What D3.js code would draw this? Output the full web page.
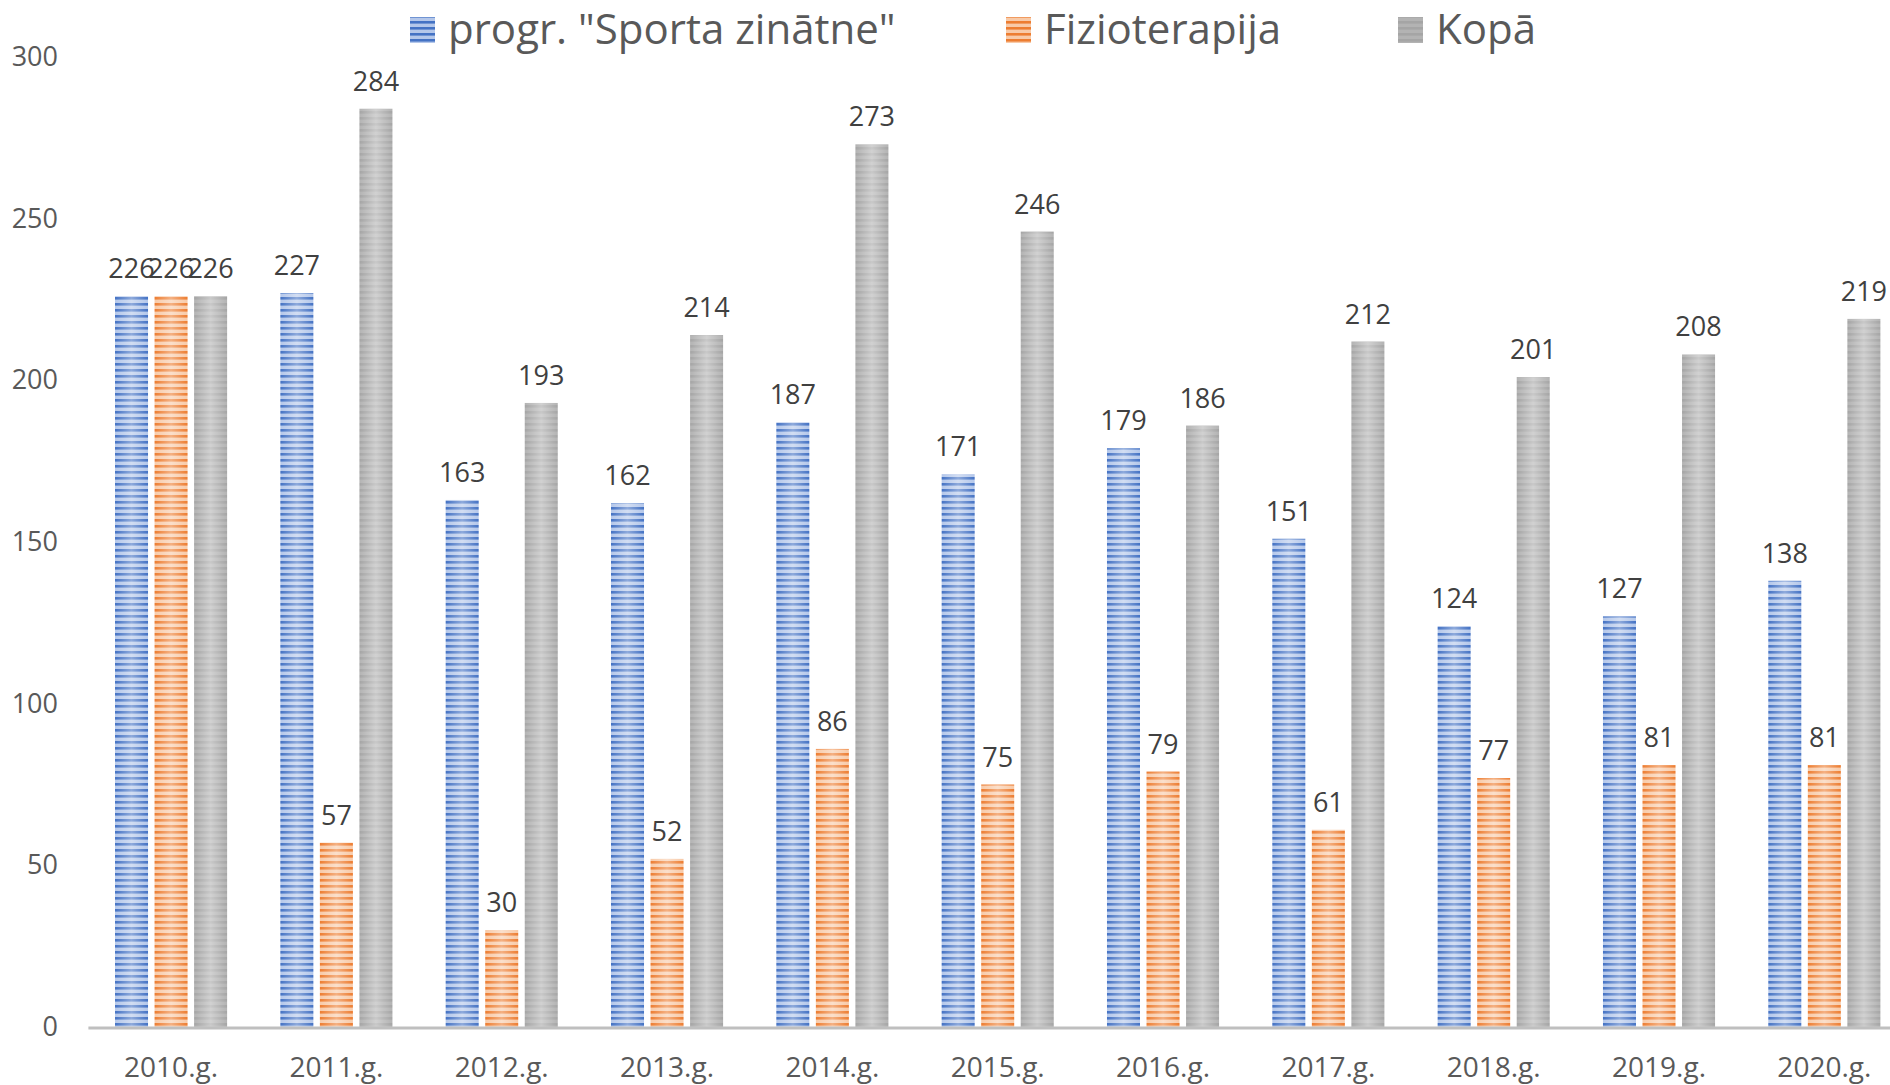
<!DOCTYPE html>
<html>
<head>
<meta charset="utf-8">
<script src="https://cdn.jsdelivr.net/npm/d3@7"></script>
<style>
  body { margin: 0; background: #fff; }
  svg { display: block; font-family: "Open Sans", sans-serif; }
</style>
</head>
<body>
<svg id="drawing_region"></svg>
<script>
const years = ['2010.g.','2011.g.','2012.g.','2013.g.','2014.g.','2015.g.','2016.g.','2017.g.','2018.g.','2019.g.','2020.g.']
const seriesNames = ['progr. "Sporta zinātne"','Fizioterapija','Kopā']
const sporta = [226,227,163,162,187,171,179,151,124,127,138]
const fizio = [226,57,30,52,86,75,79,61,77,81,81]
const kopa = [226,284,193,214,273,246,186,212,201,208,219]
const yTicks = [0,50,100,150,200,250,300]

const width = 1890, height = 1085
const colors = [
  {dark:'#4472c4', light:'#b4c7ea', id:'p0'},
  {dark:'#ed7d31', light:'#f8caa8', id:'p1'},
  {dark:'#a5a5a5', light:'#b3b3b3', id:'p2'}
]

const svg = d3.select('#drawing_region').attr('width',width).attr('height',height)
const defs = svg.append('defs')

colors.forEach(c => {
  const p = defs.append('pattern').attr('id',c.id)
    .attr('patternUnits','userSpaceOnUse').attr('width',8).attr('height',6)
  p.append('rect').attr('width',8).attr('height',6).attr('fill',c.light)
  p.append('rect').attr('y',3).attr('width',8).attr('height',2.6).attr('fill',c.dark)
})
const gl = defs.append('linearGradient').attr('id','shine')
gl.append('stop').attr('offset','0%').attr('stop-color','#fff').attr('stop-opacity',0)
gl.append('stop').attr('offset','50%').attr('stop-color','#fff').attr('stop-opacity',0.4)
gl.append('stop').attr('offset','100%').attr('stop-color','#fff').attr('stop-opacity',0)

const data = years.map((y,i) => ({year:y, values:[sporta[i],fizio[i],kopa[i]]}))

const x0 = d3.scaleBand().domain(years).range([88.4,1907]).paddingInner(0.322).paddingOuter(0.161)
const x1 = d3.scaleBand().domain([0,1,2]).range([0,x0.bandwidth()]).paddingInner(0.165)
const y = d3.scaleLinear().domain([0,300]).range([1027,57])

// y tick labels
const yaxis = d3.axisLeft(y).tickValues(yTicks).tickSize(0).tickPadding(0)
const yg = svg.append('g').attr('transform','translate(58,0)').call(yaxis)
yg.select('.domain').remove()
yg.selectAll('text').attr('font-size',27).attr('fill','#595959').attr('font-family','"Open Sans", sans-serif')

// bars
const groups = svg.selectAll('g.grp').data(data).enter().append('g')
  .attr('class','grp').attr('transform',d => `translate(${x0(d.year)},0)`)

groups.selectAll('rect.bar').data(d => d.values).enter().append('rect')
  .attr('class','bar')
  .attr('x',(d,i) => x1(i)).attr('width',x1.bandwidth())
  .attr('y',d => y(d)).attr('height',d => y(0)-y(d))
  .attr('fill',(d,i) => `url(#${colors[i].id})`)
groups.selectAll('rect.shine').data(d => d.values).enter().append('rect')
  .attr('class','shine')
  .attr('x',(d,i) => x1(i)).attr('width',x1.bandwidth())
  .attr('y',d => y(d)).attr('height',d => y(0)-y(d))
  .attr('fill','url(#shine)')

groups.selectAll('text.lbl').data(d => d.values).enter().append('text')
  .attr('class','lbl')
  .attr('x',(d,i) => x1(i)+x1.bandwidth()/2)
  .attr('y',d => y(d)-18)
  .attr('text-anchor','middle').attr('font-size',27).attr('fill','#404040')
  .text(d => d)

// x axis
const xaxis = d3.axisBottom(x0).tickSize(0).tickPadding(0)
const xg = svg.append('g').attr('transform','translate(0,1028)').call(xaxis)
xg.select('.domain').attr('stroke','#bfbfbf').attr('stroke-width',3).attr('d','M88.4,0H1907')
xg.selectAll('text').attr('font-size',28).attr('fill','#595959').attr('font-family','"Open Sans", sans-serif')
  .attr('dy',0).attr('y',49)

// legend
const legendX = [410,1006,1398]
const lg = svg.selectAll('g.leg').data(seriesNames).enter().append('g')
  .attr('class','leg').attr('transform',(d,i) => `translate(${legendX[i]},0)`)
lg.append('rect').attr('y',17).attr('width',25).attr('height',26)
  .attr('fill',(d,i) => `url(#${colors[i].id})`)
lg.append('text').attr('x',38).attr('y',44).attr('font-size',42).attr('fill','#595959')
  .text(d => d)
</script>
</body>
</html>
